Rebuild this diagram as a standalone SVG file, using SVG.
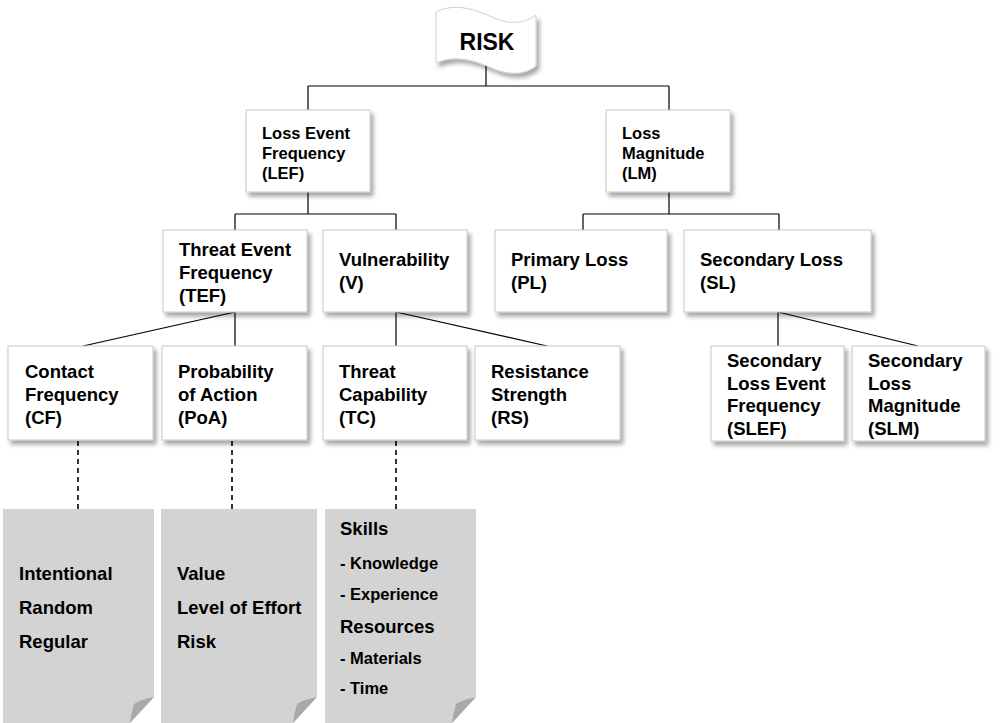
<svg xmlns="http://www.w3.org/2000/svg" width="1001" height="723" viewBox="0 0 1001 723">
<defs>
<filter id="sh" x="-10%" y="-10%" width="130%" height="140%">
<feDropShadow dx="3" dy="4" stdDeviation="2" flood-color="#000" flood-opacity="0.35"/>
</filter>
</defs>
<style>
.box{fill:#fff;stroke:#c8c8c8;stroke-width:1;filter:url(#sh)}
.t{font-family:"Liberation Sans",Arial,sans-serif;font-weight:bold;fill:#000}
.s16{font-size:16.5px}
.s18{font-size:18.5px}
.ln{stroke:#000;stroke-width:1.2;fill:none}
.dash{stroke:#000;stroke-width:1.6;stroke-dasharray:5 4;fill:none}
.note{fill:#d3d3d3}
.fold{fill:#a9a9a9}
</style>
<rect width="1001" height="723" fill="#fff"/>
<g id="connectors">
<path class="ln" d="M486,62 V86 M308,86 H669 M308,86 V110 M669,86 V110"/>
<path class="ln" d="M308,192 V214 M235,214 H396 M235,214 V230 M396,214 V230"/>
<path class="ln" d="M669,192 V214 M583,214 H779 M583,214 V230 M779,214 V230"/>
<path class="ln" d="M235,312 L83,346 M235,312 V346"/>
<path class="ln" d="M396,312 V346 M396,312 L547,346"/>
<path class="ln" d="M778,312 V346 M778,312 L918,346"/>
<path class="dash" d="M78,441 V509 M232,441 V509 M396,441 V509"/>
</g>
<g id="risk">
<path d="M436,12 C456,2 476,10 494,18 C512,26 526,22 536,15 L536,66 C526,74 512,76 494,69 C476,61 456,54 436,63 Z" fill="#fff" stroke="#d0d0d0" stroke-width="1" filter="url(#sh)"/>
<text class="t" x="487" y="50" font-size="23" text-anchor="middle">RISK</text>
</g>
<g id="lef">
<rect class="box" x="246" y="110" width="124" height="82"/>
<text class="t s16" x="262" y="139">Loss Event</text>
<text class="t s16" x="262" y="159">Frequency</text>
<text class="t s16" x="262" y="179">(LEF)</text>
</g>
<g id="lm">
<rect class="box" x="606" y="110" width="124" height="82"/>
<text class="t s16" x="622" y="139">Loss</text>
<text class="t s16" x="622" y="159">Magnitude</text>
<text class="t s16" x="622" y="179">(LM)</text>
</g>
<g id="tef">
<rect class="box" x="163" y="230" width="144" height="82"/>
<text class="t s18" x="179" y="256">Threat Event</text>
<text class="t s18" x="179" y="279">Frequency</text>
<text class="t s18" x="179" y="302">(TEF)</text>
</g>
<g id="v">
<rect class="box" x="323" y="230" width="144" height="82"/>
<text class="t s18" x="339" y="266">Vulnerability</text>
<text class="t s18" x="339" y="289">(V)</text>
</g>
<g id="pl">
<rect class="box" x="495" y="230" width="172" height="82"/>
<text class="t s18" x="511" y="266">Primary Loss</text>
<text class="t s18" x="511" y="289">(PL)</text>
</g>
<g id="sl">
<rect class="box" x="684" y="230" width="187" height="82"/>
<text class="t s18" x="700" y="266">Secondary Loss</text>
<text class="t s18" x="700" y="289">(SL)</text>
</g>
<g id="cf">
<rect class="box" x="8" y="346" width="145" height="94"/>
<text class="t s18" x="25" y="378">Contact</text>
<text class="t s18" x="25" y="401">Frequency</text>
<text class="t s18" x="25" y="424">(CF)</text>
</g>
<g id="poa">
<rect class="box" x="162" y="346" width="145" height="94"/>
<text class="t s18" x="178" y="378">Probability</text>
<text class="t s18" x="178" y="401">of Action</text>
<text class="t s18" x="178" y="424">(PoA)</text>
</g>
<g id="tc">
<rect class="box" x="323" y="346" width="144" height="94"/>
<text class="t s18" x="339" y="378">Threat</text>
<text class="t s18" x="339" y="401">Capability</text>
<text class="t s18" x="339" y="424">(TC)</text>
</g>
<g id="rs">
<rect class="box" x="475" y="346" width="145" height="94"/>
<text class="t s18" x="491" y="378">Resistance</text>
<text class="t s18" x="491" y="401">Strength</text>
<text class="t s18" x="491" y="424">(RS)</text>
</g>
<g id="slef">
<rect class="box" x="711" y="346" width="133" height="95"/>
<text class="t s18" x="727" y="367">Secondary</text>
<text class="t s18" x="727" y="390">Loss Event</text>
<text class="t s18" x="727" y="412">Frequency</text>
<text class="t s18" x="727" y="435">(SLEF)</text>
</g>
<g id="slm">
<rect class="box" x="852" y="346" width="133" height="95"/>
<text class="t s18" x="868" y="367">Secondary</text>
<text class="t s18" x="868" y="390">Loss</text>
<text class="t s18" x="868" y="412">Magnitude</text>
<text class="t s18" x="868" y="435">(SLM)</text>
</g>
<g id="note-cf">
<path class="note" d="M3,509 H154 V697 L130,723 H3 Z"/>
<path class="fold" d="M154,697 Q140,700 134,704 Q131,714 130,723 Z"/>
<text class="t s18" x="19" y="580">Intentional</text>
<text class="t s18" x="19" y="614">Random</text>
<text class="t s18" x="19" y="648">Regular</text>
</g>
<g id="note-poa">
<path class="note" d="M161,509 H317 V697 L293,723 H161 Z"/>
<path class="fold" d="M317,697 Q303,700 297,704 Q294,714 293,723 Z"/>
<text class="t s18" x="177" y="580">Value</text>
<text class="t s18" x="177" y="614">Level of Effort</text>
<text class="t s18" x="177" y="648">Risk</text>
</g>
<g id="note-tc">
<path class="note" d="M325,509 H476 V697 L452,723 H325 Z"/>
<path class="fold" d="M476,697 Q462,700 456,704 Q453,714 452,723 Z"/>
<text class="t s18" x="340" y="535">Skills</text>
<text class="t s16" x="340" y="569">- Knowledge</text>
<text class="t s16" x="340" y="600">- Experience</text>
<text class="t s18" x="340" y="633">Resources</text>
<text class="t s16" x="340" y="664">- Materials</text>
<text class="t s16" x="340" y="694">- Time</text>
</g>
</svg>
